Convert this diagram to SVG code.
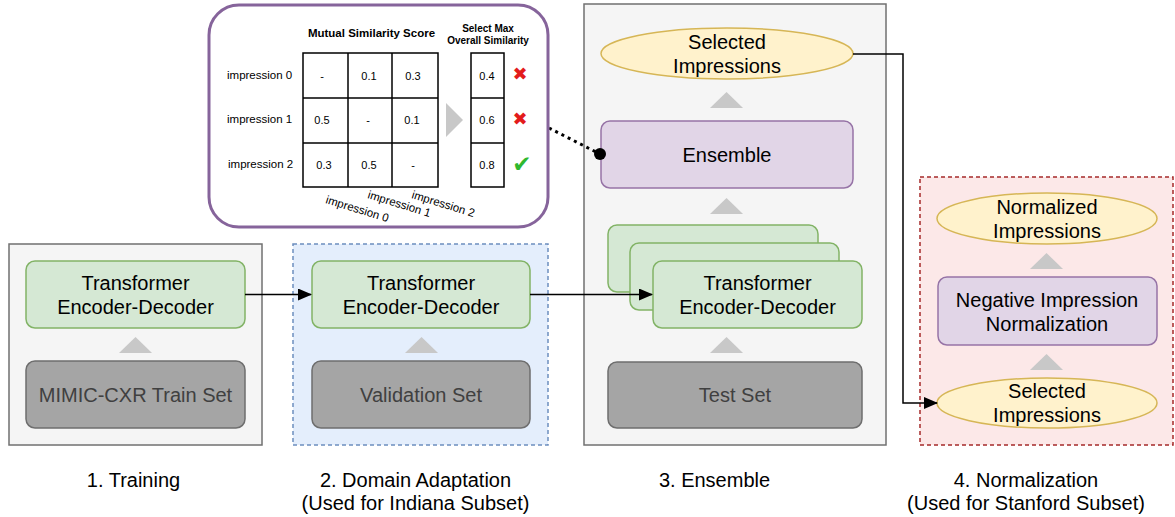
<svg xmlns="http://www.w3.org/2000/svg" width="1175" height="517" viewBox="0 0 1175 517">
<style>
text{font-family:"Liberation Sans",Arial,Helvetica,sans-serif;fill:#000}
.t20{font-size:20px;text-anchor:middle}
.ds{font-size:20px;text-anchor:middle;fill:#404040}
.green{fill:#d5e8d4;stroke:#82b366;stroke-width:1.5}
.data{fill:#a5a5a5;stroke:#6e6e6e;stroke-width:1.5}
.purple{fill:#e1d5e7;stroke:#9673a6;stroke-width:1.5}
.yellow{fill:#fff2cc;stroke:#d6b656;stroke-width:1.5}
.tri{fill:#c8c8c8}
.conn{fill:none;stroke:#000;stroke-width:1.5}
.cell{font-size:11px;text-anchor:middle}
.imp{font-size:11.5px}
.grid{fill:none;stroke:#000;stroke-width:1.5}
.xm{font-family:"DejaVu Sans",sans-serif;font-size:18px;text-anchor:middle;fill:#e31b1b}
</style>
<defs>
<marker id="arr" viewBox="0 0 14 12" refX="13" refY="6" markerWidth="14" markerHeight="12" markerUnits="userSpaceOnUse" orient="auto">
<path d="M0,0 L14,6 L0,12 Z" fill="#000"/>
</marker>
</defs>

<!-- Panels -->
<g id="panel-training">
<rect x="9" y="244" width="253" height="201" fill="#f5f5f5" stroke="#707070" stroke-width="1.5"/>
</g>
<g id="panel-domain">
<rect x="293" y="244" width="255" height="201" fill="#e4eefc" stroke="#6c8ebf" stroke-width="1.5" stroke-dasharray="4 3"/>
</g>
<g id="panel-ensemble">
<rect x="584" y="4" width="302" height="441" fill="#f5f5f5" stroke="#707070" stroke-width="1.5"/>
</g>
<g id="panel-normalization">
<rect x="920" y="177" width="253" height="268" fill="#fce8e8" stroke="#a52a2a" stroke-width="1.5" stroke-dasharray="4 3"/>
</g>

<!-- Training nodes -->
<g id="train-model">
<rect class="green" x="26" y="261" width="219" height="67" rx="9"/>
<text class="t20" x="135.5" y="290">Transformer</text>
<text class="t20" x="135.5" y="314">Encoder-Decoder</text>
</g>
<g id="train-arrow"><polygon class="tri" points="119,353 152,353 135.5,337"/></g>
<g id="train-data">
<rect class="data" x="26" y="361" width="219" height="67" rx="9"/>
<text class="ds" x="135.5" y="402">MIMIC-CXR Train Set</text>
</g>

<!-- Domain adaptation nodes -->
<g id="da-model">
<rect class="green" x="312" y="261" width="218" height="67" rx="9"/>
<text class="t20" x="421" y="290">Transformer</text>
<text class="t20" x="421" y="314">Encoder-Decoder</text>
</g>
<g id="da-arrow"><polygon class="tri" points="405,353 438,353 421.5,337"/></g>
<g id="da-data">
<rect class="data" x="312" y="361" width="218" height="67" rx="9"/>
<text class="ds" x="421" y="402">Validation Set</text>
</g>

<!-- Ensemble nodes -->
<g id="ens-selected">
<ellipse class="yellow" cx="727" cy="53.5" rx="126" ry="25.5"/>
<text class="t20" x="727" y="49">Selected</text>
<text class="t20" x="727" y="73">Impressions</text>
</g>
<g id="ens-arrow1"><polygon class="tri" points="710,108 743,108 726.5,92"/></g>
<g id="ens-ensemble">
<rect class="purple" x="601" y="121" width="252" height="67" rx="9"/>
<text class="t20" x="727" y="162">Ensemble</text>
</g>
<g id="ens-arrow2"><polygon class="tri" points="710,214 743,214 726.5,198"/></g>
<g id="ens-models">
<rect class="green" x="608" y="225" width="210" height="67" rx="9"/>
<rect class="green" x="630" y="243" width="209" height="67" rx="9"/>
<rect class="green" x="653" y="261" width="209" height="67" rx="9"/>
<text class="t20" x="757.5" y="290">Transformer</text>
<text class="t20" x="757.5" y="314">Encoder-Decoder</text>
</g>
<g id="ens-arrow3"><polygon class="tri" points="710,353 743,353 726.5,337"/></g>
<g id="ens-data">
<rect class="data" x="608" y="362" width="254" height="66" rx="9"/>
<text class="ds" x="735" y="402">Test Set</text>
</g>

<!-- Normalization nodes -->
<g id="norm-normalized">
<ellipse class="yellow" cx="1047" cy="218.5" rx="110" ry="25.5"/>
<text class="t20" x="1047" y="214">Normalized</text>
<text class="t20" x="1047" y="238">Impressions</text>
</g>
<g id="norm-arrow1"><polygon class="tri" points="1030,269 1063,269 1046.5,253"/></g>
<g id="norm-process">
<rect class="purple" x="938" y="277" width="219" height="68" rx="9"/>
<text class="t20" x="1047" y="307">Negative Impression</text>
<text class="t20" x="1047" y="331">Normalization</text>
</g>
<g id="norm-arrow2"><polygon class="tri" points="1030,370 1063,370 1046.5,354"/></g>
<g id="norm-selected">
<ellipse class="yellow" cx="1047" cy="403" rx="110" ry="25"/>
<text class="t20" x="1047" y="398">Selected</text>
<text class="t20" x="1047" y="422">Impressions</text>
</g>

<!-- Connectors -->
<g id="connectors">
<line class="conn" x1="245" y1="294.5" x2="311" y2="294.5" marker-end="url(#arr)"/>
<line class="conn" x1="530" y1="294.5" x2="652" y2="294.5" marker-end="url(#arr)"/>
<polyline class="conn" points="853,54 903,54 903,403 937,403" marker-end="url(#arr)"/>
<line x1="549" y1="128" x2="596" y2="152" stroke="#000" stroke-width="3" stroke-dasharray="3 4"/>
<circle cx="600" cy="154" r="6" fill="#000"/>
</g>

<!-- Inset -->
<g id="inset">
<rect x="209" y="5" width="339" height="222" rx="30" fill="#fff" stroke="#86649b" stroke-width="3"/>
<text x="371.5" y="37" style="font-size:11.5px;font-weight:bold;text-anchor:middle">Mutual Similarity Score</text>
<text x="488" y="32" style="font-size:10px;font-weight:bold;text-anchor:middle">Select Max</text>
<text x="488" y="44" style="font-size:10px;font-weight:bold;text-anchor:middle">Overall Similarity</text>
<rect class="grid" x="303" y="53" width="135" height="134"/>
<line class="grid" x1="348" y1="53" x2="348" y2="187"/>
<line class="grid" x1="392" y1="53" x2="392" y2="187"/>
<line class="grid" x1="303" y1="98" x2="438" y2="98"/>
<line class="grid" x1="303" y1="143" x2="438" y2="143"/>
<rect class="grid" x="471" y="53" width="33" height="134"/>
<line class="grid" x1="471" y1="98" x2="504" y2="98"/>
<line class="grid" x1="471" y1="143" x2="504" y2="143"/>
<polygon class="tri" points="446,103 463,120 446,137"/>
<text class="imp" x="227" y="79">impression 0</text>
<text class="imp" x="227" y="123">impression 1</text>
<text class="imp" x="228" y="168">impression 2</text>
<text class="cell" x="322" y="80">-</text>
<text class="cell" x="369" y="80">0.1</text>
<text class="cell" x="413" y="80">0.3</text>
<text class="cell" x="322" y="124">0.5</text>
<text class="cell" x="368" y="124">-</text>
<text class="cell" x="412" y="124">0.1</text>
<text class="cell" x="324" y="169">0.3</text>
<text class="cell" x="369" y="169">0.5</text>
<text class="cell" x="413" y="169">-</text>
<text class="cell" x="487" y="80">0.4</text>
<text class="cell" x="487" y="124">0.6</text>
<text class="cell" x="487" y="169">0.8</text>
<text class="xm" x="520" y="80">✖</text>
<text class="xm" x="520" y="125">✖</text>
<text x="522" y="172" style="font-family:'DejaVu Sans',sans-serif;font-size:23px;text-anchor:middle;fill:#2fb82f">✔</text>
<text class="imp" transform="translate(325,203) rotate(17)">impression 0</text>
<text class="imp" transform="translate(367,198) rotate(17)">impression 1</text>
<text class="imp" transform="translate(411,198) rotate(17)">impression 2</text>
</g>

<!-- Captions -->
<g id="captions">
<text class="t20" x="133.5" y="487">1. Training</text>
<text class="t20" x="415.5" y="487">2. Domain Adaptation</text>
<text class="t20" x="415.5" y="510">(Used for Indiana Subset)</text>
<text class="t20" x="714.5" y="487">3. Ensemble</text>
<text class="t20" x="1026" y="487">4. Normalization</text>
<text class="t20" x="1026" y="510">(Used for Stanford Subset)</text>
</g>
</svg>
